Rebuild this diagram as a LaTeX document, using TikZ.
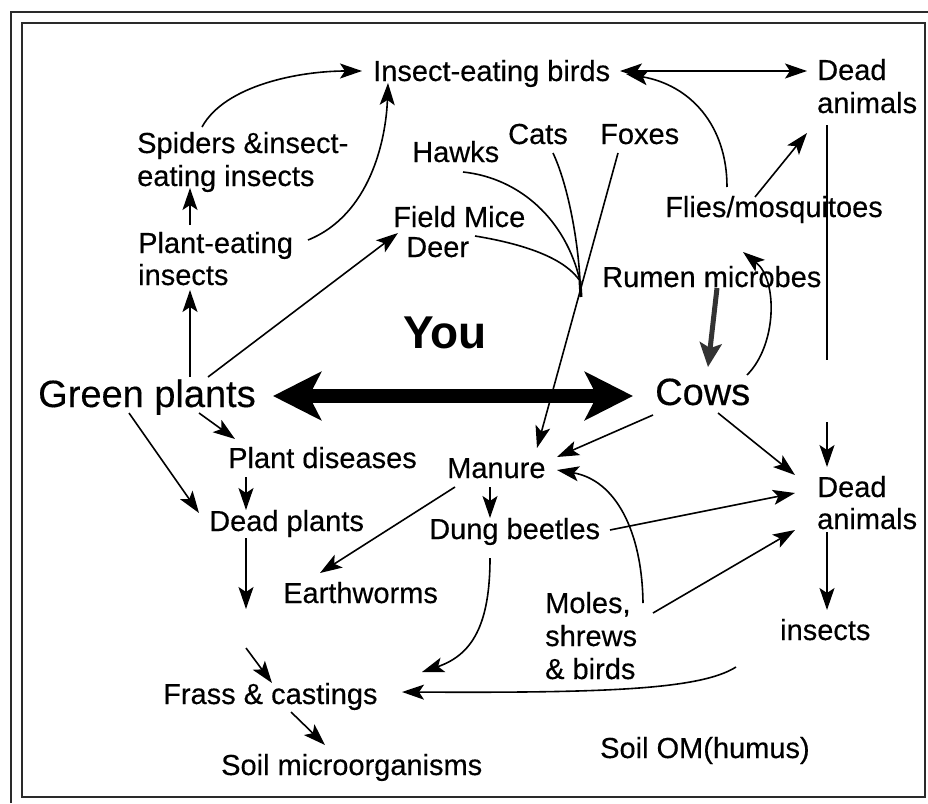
\documentclass[tikz,border=0pt]{standalone}
\usepackage{fontspec}
\setmainfont{Liberation Sans}[UprightFeatures={FakeBold=0.35}]
\usetikzlibrary{arrows.meta}
\newcommand\mlines[1]{\begin{tabular}[t]{@{}l@{}}#1\end{tabular}}
\definecolor{framec}{HTML}{2A2A2A}
\definecolor{thickc}{HTML}{333333}
\begin{document}
\begin{tikzpicture}[x=1pt,y=-1pt,
  lbl/.style={inner sep=0pt, anchor=base west, font=\fontsize{29}{33}\selectfont},
  biglbl/.style={inner sep=0pt, anchor=base west, font=\fontsize{38}{40}\selectfont},
  youlbl/.style={inner sep=0pt, anchor=base west, font=\fontsize{46}{50}\selectfont\bfseries},
  arr/.style={-{Stealth[length=22pt,width=15pt,inset=5pt]}, line width=1.6pt},
  dblarr/.style={{Stealth[length=22pt,width=15pt,inset=5pt]}-{Stealth[length=22pt,width=15pt,inset=5pt]}, line width=1.6pt},
  plain/.style={line width=1.6pt},
  hugearr/.style={{Stealth[length=48pt,width=48pt,inset=12pt]}-{Stealth[length=48pt,width=48pt,inset=12pt]}, line width=14pt},
  rumarr/.style={-{Stealth[length=24pt,width=22pt,inset=5pt]}, line width=5pt, draw=thickc},
  framel/.style={line width=1.6pt, draw=framec}
]
\useasboundingbox (0,0) rectangle (928,803);
% frames
\draw[framel] (11,803) -- (11,12) -- (928,12);
\draw[framel] (22,23) rectangle (925,797);

% nodes
\node[lbl] (birds) at (373,81) {Insect-eating birds};
\node[lbl] (spiders) at (137,153) {\mlines{Spiders \&insect-\\eating insects}};
\node[lbl, font=\fontsize{29}{32}\selectfont] (plantins) at (138,253) {\mlines{Plant-eating\\insects}};
\node[lbl] (hawks) at (412,162) {Hawks};
\node[lbl] (cats) at (508,144) {Cats};
\node[lbl] (foxes) at (600,144) {Foxes};
\node[lbl, font=\fontsize{29}{30}\selectfont] (mice) at (393,227) {\mlines{Field Mice\\\hspace*{13pt}Deer}};
\node[lbl] (deadtop) at (817,80) {\mlines{Dead\\animals}};
\node[lbl] (flies) at (665,217) {Flies/mosquitoes};
\node[lbl] (rumen) at (602,287) {Rumen microbes};
\node[youlbl] (you) at (403,348) {You};
\node[biglbl] (gp) at (38,407) {Green plants};
\node[biglbl] (cows) at (655,405) {Cows};
\node[lbl] (pdis) at (228,468) {Plant diseases};
\node[lbl] (deadpl) at (209,531) {Dead plants};
\node[lbl] (manure) at (447,478) {Manure};
\node[lbl] (dung) at (429,539) {Dung beetles};
\node[lbl] (earth) at (283,603) {Earthworms};
\node[lbl, font=\fontsize{29}{32}\selectfont] (deadbot) at (817,497) {\mlines{Dead\\animals}};
\node[lbl] (insects) at (780,640) {insects};
\node[lbl] (moles) at (545,613) {\mlines{Moles,\\shrews\\\& birds}};
\node[lbl] (frass) at (163,704) {Frass \& castings};
\node[lbl] (soilmic) at (221,775) {Soil microorganisms};
\node[lbl] (soilom) at (600,758) {Soil OM(humus)};

% free-end coordinates
\coordinate (J) at (580,281);
\coordinate (J2) at (581,297);
\coordinate (dagap1) at (827,360);
\coordinate (dagap2) at (827,422);
\coordinate (dpgap) at (246,609);
\coordinate (frgap) at (246,648);

% big double arrow
\draw[hugearr] ([shift={(235,-11)}]gp.base west) -- ([shift={(-22,-9)}]cows.base west);

% left column
\draw[arr] ([shift={(152,-30)}]gp.base west) -- ([shift={(52,37)}]plantins.base west);
\draw[arr] ([shift={(52,-28)}]plantins.base west) -- ([shift={(53,35)}]spiders.base west);
\draw[arr] ([shift={(65,-26)}]spiders.base west) .. controls (225,85) and (300,71) .. ([shift={(-11,-10)}]birds.base west);
\draw[arr] ([shift={(170,-13)}]plantins.base west) .. controls (370,215) and (386,140) .. ([shift={(15,2)}]birds.base west);
\draw[arr] ([shift={(170,-30)}]gp.base west) -- ([shift={(5,6)}]mice.base west);

% top right
\draw[dblarr] ([shift={(247,-10)}]birds.base west) -- ([shift={(-10,-9)}]deadtop.base west);
\draw[arr] ([shift={(62,-30)}]flies.base west) .. controls (727,125) and (690,85) .. ([shift={(253,-7)}]birds.base west);
\draw[arr] ([shift={(90,-20)}]flies.base west) -- ([shift={(-10,53)}]deadtop.base west);
\draw[plain] ([shift={(10,45)}]deadtop.base west) -- (dagap1);
\draw[arr] (dagap2) -- ([shift={(10,-30)}]deadbot.base west);
\draw[rumarr] ([shift={(115,1)}]rumen.base west) -- ([shift={(53,-38)}]cows.base west);
\draw[arr] ([shift={(92,-30)}]cows.base west) .. controls (777,345) and (778,280) .. ([shift={(78,35)}]flies.base west);

% predators fan
\draw[plain] ([shift={(51,10)}]hawks.base west) .. controls (520,178) and (566,220) .. (J);
\draw[plain] ([shift={(45,9)}]cats.base west) .. controls (568,185) and (578,240) .. (J);
\draw[plain] ([shift={(82,9)}]mice.base west) .. controls (530,245) and (566,260) .. (J);
\draw[line width=3pt] (J) -- (J2);
\draw[arr] ([shift={(18,9)}]foxes.base west) -- ([shift={(90,-30)}]manure.base west);

% middle
\draw[arr] ([shift={(-2,10)}]cows.base west) -- ([shift={(110,-21)}]manure.base west);
\draw[arr] ([shift={(63,8)}]cows.base west) -- ([shift={(-22,-22)}]deadbot.base west);
\draw[arr] ([shift={(98,-10)}]moles.base west) .. controls (642,530) and (615,480) .. ([shift={(110,-8)}]manure.base west);
\draw[arr] ([shift={(181,-9)}]dung.base west) -- ([shift={(-22,-4)}]deadbot.base west);
\draw[arr] ([shift={(108,0)}]moles.base west) -- ([shift={(-22,33)}]deadbot.base west);
\draw[arr] ([shift={(10,35)}]deadbot.base west) -- ([shift={(47,-30)}]insects.base west);
\draw[arr] ([shift={(-44,27)}]insects.base west) .. controls (700,690) and (600,693) .. ([shift={(239,-12)}]frass.base west);
\draw[arr] ([shift={(61,19)}]dung.base west) .. controls (490,625) and (472,655) .. ([shift={(259,-32)}]frass.base west);
\draw[arr] ([shift={(43,9)}]manure.base west) -- ([shift={(61,-21)}]dung.base west);
\draw[arr] ([shift={(8,9)}]manure.base west) -- ([shift={(37,-30)}]earth.base west);

% lower left
\draw[arr] ([shift={(161,6)}]gp.base west) -- ([shift={(7,-29)}]pdis.base west);
\draw[arr] ([shift={(91,6)}]gp.base west) -- ([shift={(-10,-18)}]deadpl.base west);
\draw[arr] ([shift={(18,9)}]pdis.base west) -- ([shift={(37,-21)}]deadpl.base west);
\draw[arr] ([shift={(37,7)}]deadpl.base west) -- (dpgap);
\draw[arr] (frgap) -- ([shift={(109,-21)}]frass.base west);
\draw[arr] ([shift={(128,8)}]frass.base west) -- ([shift={(104,-30)}]soilmic.base west);
\end{tikzpicture}
\end{document}
